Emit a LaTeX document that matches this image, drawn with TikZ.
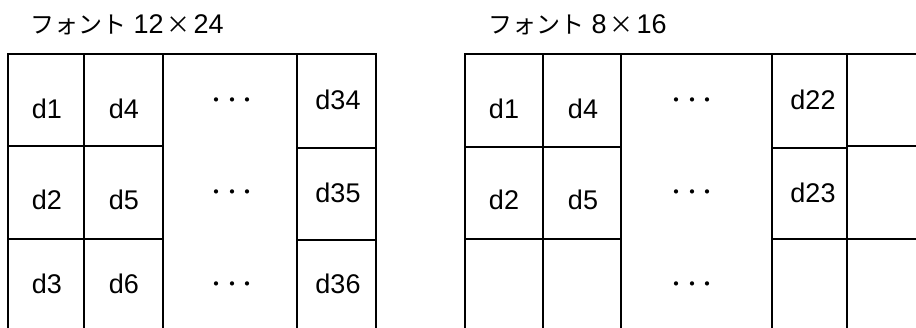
\documentclass[tikz,border=0pt]{standalone}
\usepackage{fontspec}
\setmainfont{Liberation Sans}
\newfontfamily\jpfont{Noto Sans CJK JP}
\tikzset{
  cell/.style={draw=black, line width=1.2pt},
  ttl/.style={anchor=base west, inner sep=0pt, font=\fontsize{27}{30}\selectfont},
  lbl/.style={anchor=base, inner sep=0pt, font=\fontsize{27}{30}\selectfont},
  gap/.style={inner sep=0pt, font=\jpfont\fontsize{20}{22}\selectfont}
}
\newcommand{\jp}[1]{{\jpfont\fontsize{24}{26}\selectfont #1}}
\newcommand{\threedots}{・\kern-4.5pt・\kern-4.5pt・}
\begin{document}
\begin{tikzpicture}[x=1pt, y=-1pt]
 \useasboundingbox (0,0) rectangle (916,327);
 \clip (0,0) rectangle (916,327);
 % titles
 \node[ttl] (t12) at (30,33) {\jp{フォント} 12\kern3pt\jp{×}\kern3pt24};
 \node[ttl] (t8) at (488,33) {\jp{フォント} 8\kern3pt\jp{×}\kern3pt16};
 % left panel (12x24)
 \foreach \xa/\xb/\ya/\yb in {8/84/54/146, 8/84/146/239, 8/84/239/335,
   84/163/54/146, 84/163/146/239, 84/163/239/335, 163/297/54/335,
   297/376/54/148, 297/376/148/240, 297/376/240/335}
   \draw[cell] (\xa,\ya) rectangle (\xb,\yb);
 % right panel (8x16)
 \foreach \xa/\xb/\ya/\yb in {465/543/54/147, 465/543/147/239, 465/543/239/335,
   543/621/54/147, 543/621/147/239, 543/621/239/335, 621/772/54/335,
   772/847/54/148, 772/847/148/239, 772/847/239/335,
   847/930/54/146, 847/930/146/239, 847/930/239/335}
   \draw[cell] (\xa,\ya) rectangle (\xb,\yb);
 % cell labels
 \foreach \nm/\x/\y/\txt in {la/47/118/d1, lb/124/118/d4, lc/338/109/d34,
   ld/47/209/d2, le/124/209/d5, lf/338/202/d35,
   lg/47/293/d3, lh/124/293/d6, li/338/293/d36,
   ra/504/118/d1, rb/583/118/d4, rc/813/109/d22,
   rd/504/209/d2, re/583/209/d5, rf/813/202/d23}
   \node[lbl] (\nm) at (\x,\y) {\txt};
 % dots
 \foreach \i/\y in {1/103, 2/195, 3/287} {
   \node[gap] (ldots\i) at (232,\y) {\threedots};
   \node[gap] (rdots\i) at (692,\y) {\threedots};
 }
\end{tikzpicture}
\end{document}
